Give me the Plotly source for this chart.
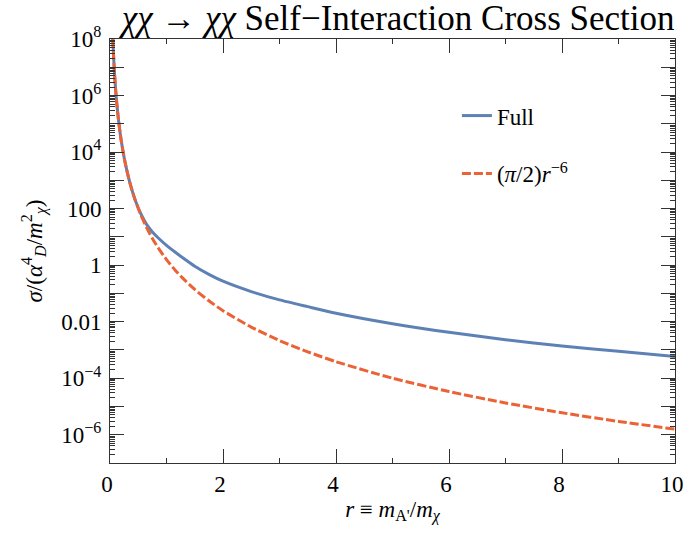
import plotly.graph_objects as go

# ---- data ----
r_vals = [0.05, 0.06, 0.08, 0.10, 0.12, 0.15, 0.18, 0.20, 0.25, 0.30, 0.35, 0.40, 0.45,
          0.55, 0.65, 0.75, 0.85, 1.0, 1.15, 1.3, 1.5, 1.75, 2.0, 2.5, 3.0, 3.5,
          4.0, 5.0, 6.0, 7.0, 8.0, 9.0, 10.0]
sigma_full = [1.0e8, 3.37e7, 6.0e6, 1.57e6, 5.26e5, 1.38e5, 4.6e4, 2.45e4, 6.4e3, 2.15e3,
              8.5e2, 3.83e2, 1.9e2,
              63.0, 27.0, 14.8, 9.3, 5.0, 2.9, 1.74, 0.91, 0.47, 0.27, 0.116, 0.059, 0.034,
              0.020, 0.0085, 0.0042, 0.0023, 0.00138, 0.00089, 0.00059]
sigma_approx = [1.0e8, 3.37e7, 5.99e6, 1.57e6, 5.26e5, 1.38e5, 4.62e4, 2.45e4, 6.43e3, 2.15e3,
                853.0, 383.0, 189.0,
                56.8, 20.8, 8.8, 4.17, 1.57, 0.679, 0.325, 0.138, 0.0547, 0.0245, 0.00643,
                0.00215, 0.000855, 0.000383, 1.0e-4, 3.37e-5, 1.33e-5, 5.99e-6, 2.96e-6, 1.57e-6]

y_tick_vals = [1e-7, 1e-6, 1e-5, 1e-4, 1e-3, 1e-2, 1e-1, 1, 10, 100, 1e3, 1e4, 1e5, 1e6, 1e7, 1e8]
y_tick_text = ["", "10<sup>−6</sup>", "", "10<sup>−4</sup>", "", "0.01", "", "1", "", "100",
               "", "10<sup>4</sup>", "", "10<sup>6</sup>", "", "10<sup>8</sup>"]
x_tick_vals = [0, 2, 4, 6, 8, 10]
x_tick_text = ["0", "2", "4", "6", "8", "10"]

BLUE = "#5E81B5"
ORANGE = "#EB6235"
FONT = "Liberation Serif, Times New Roman, Times, DejaVu Serif, serif"
AXC = "#333333"

fig = go.Figure()
fig.add_trace(go.Scatter(x=r_vals, y=sigma_full, mode="lines", name="Full",
                         line=dict(color=BLUE, width=3, shape="spline", smoothing=0.6),
                         legendgroup="a"))
fig.add_trace(go.Scatter(x=r_vals, y=sigma_approx, mode="lines",
                         name="(<i>π</i>/2)<i>r</i><sup>−6</sup>",
                         line=dict(color=ORANGE, width=3, dash="9px,3px", shape="spline", smoothing=0.6),
                         legendgroup="b"))

fig.update_layout(
    template="none",
    width=689, height=538,
    margin=dict(l=110, r=14, t=39, b=75, autoexpand=False),
    paper_bgcolor="white", plot_bgcolor="white",
    font=dict(family=FONT, size=23, color="black"),
    title=dict(text="<i>χχ</i> → <i>χχ</i> Self−Interaction Cross Section",
               x=0.51, xref="paper", xanchor="center", y=0.99, yanchor="top",
               font=dict(family=FONT, size=35, color="black")),
    legend=dict(x=0.614, y=0.87, xanchor="left", yanchor="top",
                bgcolor="rgba(0,0,0,0)", font=dict(family=FONT, size=23),
                tracegroupgap=25, traceorder="grouped"),
    showlegend=True,
)

fig.update_xaxes(
    range=[0, 10], tickvals=x_tick_vals, ticktext=x_tick_text,
    ticks="inside", ticklen=14, tickwidth=1, tickcolor=AXC,
    minor=dict(ticks="inside", ticklen=5, tickwidth=1, tickcolor=AXC, dtick=1, showgrid=False),
    showline=True, linecolor=AXC, linewidth=1, mirror="ticks",
    showgrid=False, zeroline=False, automargin=False,
    tickfont=dict(family=FONT, size=23), ticklabelshift=-3,
    title=dict(text="<i>r</i> ≡ <i>m</i><sub>A'</sub>/<i>m</i><sub><i>χ</i></sub>",
               font=dict(family=FONT, size=23), standoff=4),
)
fig.update_yaxes(
    type="log", range=[-7, 8], tickvals=y_tick_vals, ticktext=y_tick_text,
    ticks="inside", ticklen=14, tickwidth=1, tickcolor=AXC,
    minor=dict(ticks="inside", ticklen=5, tickwidth=1, tickcolor=AXC, dtick="D1", showgrid=False),
    showline=True, linecolor=AXC, linewidth=1, mirror="ticks",
    showgrid=False, zeroline=False, automargin=False,
    tickfont=dict(family=FONT, size=23), ticklabelstandoff=3,
    title=dict(text="<i>σ</i>/(<i>α</i><sup>4</sup><sub><i>D</i></sub>/<i>m</i><sup>2</sup><sub><i>χ</i></sub>)",
               font=dict(family=FONT, size=23), standoff=12),
)

fig.write_html("out.html", config={"displayModeBar": False},
               post_script="document.body.style.margin='0';")
